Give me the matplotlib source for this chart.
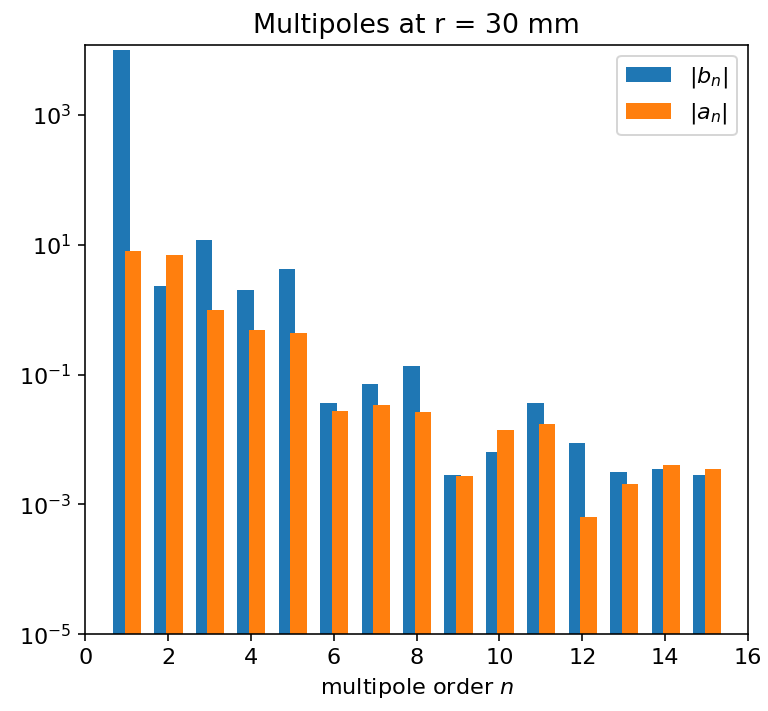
import numpy as np
import matplotlib.pyplot as plt

# multipole orders and magnitudes
orders = np.arange(1, 16)
b_n = [9900, 2.33, 11.9, 2.03, 4.2, 0.036, 0.0705, 0.133, 0.00282,
       0.00643, 0.036, 0.00883, 0.00313, 0.00356, 0.00282]
a_n = [7.9, 6.9, 1.0, 0.48, 0.437, 0.0274, 0.0343, 0.0262, 0.00272,
       0.0138, 0.0175, 0.000638, 0.00205, 0.0041, 0.00356]

plt.rcParams["font.size"] = 11.2

fig = plt.figure(figsize=(768 / 144, 711 / 144), dpi=144)
ax = fig.add_axes([0.111, 0.108, 0.863, 0.829])

ax.bar(orders - 0.13, b_n, width=0.4, label=r"$|b_n|$")
ax.bar(orders + 0.15, a_n, width=0.4, label=r"$|a_n|$")

ax.set_yscale("log")
ax.set_ylim(1e-5, 1.2e4)
ax.set_yticks([1e-5, 1e-3, 1e-1, 1e1, 1e3])
ax.minorticks_off()
ax.set_xlim(0, 16)
ax.set_xticks(range(0, 17, 2))

ax.set_xlabel(r"multipole order $n$")
ax.set_title("Multipoles at r = 30 mm")
ax.legend(loc="upper right")

fig.savefig("out.png", dpi=144)
